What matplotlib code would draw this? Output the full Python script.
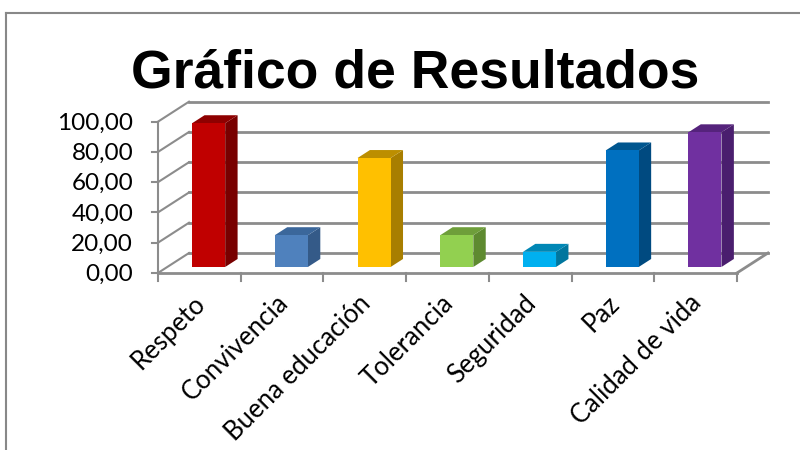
import matplotlib.pyplot as plt
from matplotlib.patches import Polygon
from matplotlib.lines import Line2D

categorias = ['Respeto', 'Convivencia', 'Buena educación', 'Tolerancia',
              'Seguridad', 'Paz', 'Calidad de vida']
valores = [95, 21, 72, 21, 10, 77, 89]
ticks = [0, 20, 40, 60, 80, 100]

# front, side, top colours for each bar
col_frente = ['#C00000', '#4F81BD', '#FFC000', '#92D050', '#00B0F0', '#0070C0', '#7030A0']
col_lado = ['#780000', '#345A88', '#A87E00', '#5E8A30', '#00769E', '#004A80', '#4A1E6E']
col_arriba = ['#8E0000', '#3B679B', '#BC8E00', '#6E9E3A', '#0087B5', '#00568F', '#55237C']

# oblique depth offset (data units)
DX, DY = 0.375, 13.2
d0, d1 = 0.3, 0.7
ancho = 0.4
n = len(categorias)
gris = '#8C8C8C'

fig = plt.figure(figsize=(8, 4.5), dpi=100)
ax = fig.add_axes([0, 0, 1, 1])
ax.set_xlim(-2.410, 7.262)
ax.set_ylim(-117.0, 180.4)
ax.axis('off')

# outer chart border
fig.add_artist(Line2D([6/800, 6/800], [0, 1 - 13/450], color='#888888', lw=1.5))
fig.add_artist(Line2D([6/800, 1], [1 - 13/450, 1 - 13/450], color='#888888', lw=1.5))

x0, x1 = -0.5, n - 0.5
# back wall gridlines + left wall diagonals
for t in ticks:
    ax.plot([x0 + DX, x1 + DX], [t + DY, t + DY], color=gris, lw=2, zorder=1)
    ax.plot([x0, x0 + DX], [t, t + DY], color=gris, lw=1.5, zorder=1)
    ax.plot([x0 - 0.075, x0], [t, t], color=gris, lw=1.5, zorder=1)
    ax.text(x0 - 0.30, t - 1, f'{t:.2f}'.replace('.', ','), ha='right', va='center',
            fontsize=17.5, family='Lato')
# front vertical axis and floor
ax.plot([x0, x0], [0, ticks[-1]], color=gris, lw=1.5, zorder=1)
ax.plot([x0, x1], [0, 0], color=gris, lw=2, zorder=1)
ax.plot([x1, x1 + DX], [0, DY], color=gris, lw=2, zorder=1)
for k in range(n + 1):
    ax.plot([x0 + k, x0 + k], [0, -5], color=gris, lw=1.5, zorder=1)

# bars
for i, v in enumerate(valores):
    xl, xr = i - ancho / 2 + d0 * DX, i + ancho / 2 + d0 * DX
    yb = d0 * DY
    sx, sy = (d1 - d0) * DX, (d1 - d0) * DY
    ax.add_patch(Polygon([(xr, yb), (xr + sx, yb + sy), (xr + sx, yb + sy + v), (xr, yb + v)],
                         closed=True, fc=col_lado[i], ec='none', zorder=3))
    ax.add_patch(Polygon([(xl, yb + v), (xr, yb + v), (xr + sx, yb + v + sy), (xl + sx, yb + v + sy)],
                         closed=True, fc=col_arriba[i], ec='none', zorder=3))
    ax.add_patch(Polygon([(xl, yb), (xr, yb), (xr, yb + v), (xl, yb + v)],
                         closed=True, fc=col_frente[i], ec='none', zorder=4))
    ax.text(i - 0.08, -11.5, categorias[i], rotation=45, ha='right', va='top',
            rotation_mode='anchor', fontsize=18.5, family='Lato')

fig.text(415/800, 1 - 88/450, 'Gráfico de Resultados', ha='center', va='baseline',
         fontsize=38.5, fontweight='bold', family='Liberation Sans')

fig.savefig('out.png', dpi=100)
